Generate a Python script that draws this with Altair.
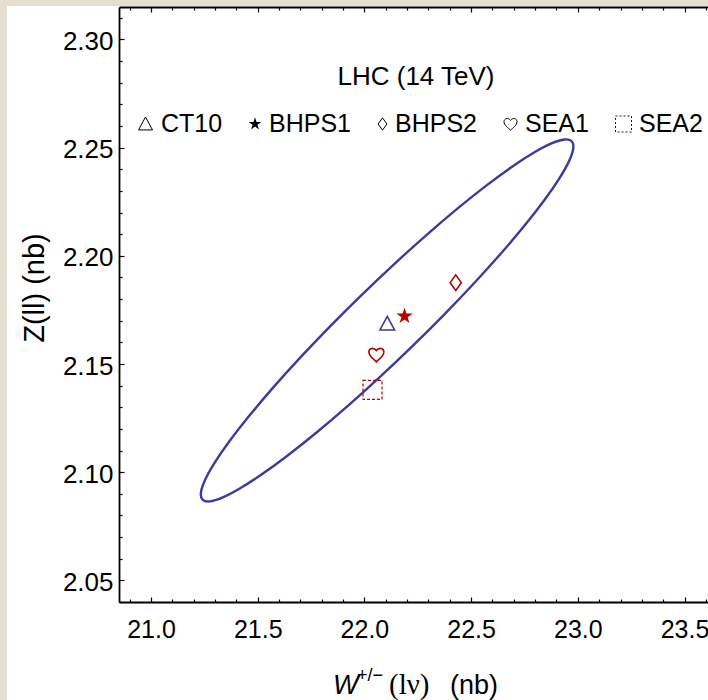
import altair as alt
import pandas as pd

# Predicted W and Z production cross sections at the LHC (14 TeV)
models = ["CT10", "BHPS1", "BHPS2", "SEA1", "SEA2"]
w_nb = [22.107, 22.188, 22.428, 22.056, 22.038]
z_nb = [2.1686, 2.1721, 2.1876, 2.1543, 2.1380]

# CT10 uncertainty ellipse, traced from the upper tip
ellipse_w = [22.9714, 22.9787, 22.9594, 22.9143, 22.8446, 22.7524, 22.6407, 22.5127,
             22.3724, 22.2239, 22.0719, 21.9210, 21.7757, 21.6404, 21.5193, 21.4160,
             21.3338, 21.2750, 21.2414, 21.2341, 21.2534, 21.2985, 21.3682, 21.4604,
             21.5721, 21.7001, 21.8404, 21.9889, 22.1409, 22.2918, 22.4371, 22.5724,
             22.6935, 22.7968, 22.8790, 22.9379]
ellipse_z = [2.25297, 2.24963, 2.24388, 2.23589, 2.22590, 2.21422, 2.20120, 2.18723,
             2.17274, 2.15818, 2.14398, 2.13057, 2.11836, 2.10774, 2.09900, 2.09243,
             2.08822, 2.08649, 2.08731, 2.09065, 2.09640, 2.10439, 2.11438, 2.12606,
             2.13908, 2.15305, 2.16754, 2.18210, 2.19630, 2.20971, 2.22192, 2.23254,
             2.24128, 2.24785, 2.25206, 2.25379]

# Tick values
x_major = [21.0, 21.5, 22.0, 22.5, 23.0, 23.5]
y_major = [2.05, 2.10, 2.15, 2.20, 2.25, 2.30]
x_minor = [round(20.9 + 0.1 * i, 2) for i in range(28)]
x_minor = [v for v in x_minor if v not in x_major]
y_minor = [round(2.04 + 0.01 * i, 2) for i in range(28)]
y_minor = [v for v in y_minor if v not in y_major]

X_DOM = [20.85, 23.61]
Y_DOM = [2.04, 2.315]
W, H = 589, 595

SANS = "Liberation Sans"
SERIF = "Liberation Serif"
BLUE = "#3b3b9c"
RED = "#b30000"
PARCH = "#e6dfd1"

TRI = "M0,-1L1,0.85L-1,0.85Z"
STAR = ("M0,-1L0.2245,-0.309L0.951,-0.309L0.3633,0.118L0.588,0.809L0,0.382"
        "L-0.588,0.809L-0.3633,0.118L-0.951,-0.309L-0.2245,-0.309Z")
DIAMOND = "M0,-1L0.72,0L0,1L-0.72,0Z"
HEART = ("M0,0.95C-0.35,0.6 -1,0.2 -1,-0.35C-1,-0.85 -0.4,-1.05 0,-0.55"
         "C0.4,-1.05 1,-0.85 1,-0.35C1,0.2 0.35,0.6 0,0.95Z")

pts = pd.DataFrame({"model": models, "w": w_nb, "z": z_nb})
ell = pd.DataFrame({"k": list(range(len(ellipse_w))), "w": ellipse_w, "z": ellipse_z})
single = pd.DataFrame({"row": [0]})  # one row for decorations and text


def xenc(axis=None):
    return alt.X("w:Q", scale=alt.Scale(domain=X_DOM, nice=False, zero=False), axis=axis)


def yenc(axis=None):
    return alt.Y("z:Q", scale=alt.Scale(domain=Y_DOM, nice=False, zero=False), axis=axis)


common = dict(grid=False, title=None, zindex=1)
lab = dict(labelFont=SANS, labelColor="black", labelFlush=False, labelOverlap=False)

ax_bottom = alt.Axis(orient="bottom", values=x_major, format=".1f", ticks=False, tickSize=0,
                     domain=True, domainColor="black", domainWidth=1.8, labelPadding=15,
                     labelFontSize=25, **lab, **common)
ax_left = alt.Axis(orient="left", values=y_major, format=".2f", ticks=False, tickSize=0,
                   domain=True, domainColor="black", domainWidth=1.8, labelPadding=6,
                   labelOffset=2, labelFontSize=26, **lab, **common)


def tick_axis(orient, offset, values, size, domain=False):
    return alt.Axis(orient=orient, offset=offset, values=values, labels=False,
                    domain=domain, domainColor="black", domainWidth=1.8,
                    ticks=True, tickSize=size, tickWidth=1.2, tickColor="black", **common)


# white panel behind the figure
panel = alt.Chart(single).mark_rect(color="white").encode(
    x=alt.value(-112), x2=alt.value(W + 5), y=alt.value(-1), y2=alt.value(H + 110)
)

ellipse = alt.Chart(ell).mark_line(
    interpolate="cardinal-closed", color=BLUE, strokeWidth=2.4
).encode(x=xenc(ax_bottom), y=yenc(ax_left), order=alt.Order("k:Q"))

# inward ticks on bottom/left, framed top edge with ticks
tick_layers = [
    alt.Chart(pts).mark_point(opacity=0).encode(
        x=xenc(tick_axis("top", -H, x_major, 5)), y=yenc(tick_axis("right", -W, y_major, 5))),
    alt.Chart(pts).mark_point(opacity=0).encode(
        x=xenc(tick_axis("top", -H, x_minor, 3)), y=yenc(tick_axis("right", -W, y_minor, 3))),
    alt.Chart(pts).mark_point(opacity=0).encode(
        x=xenc(tick_axis("bottom", -H, x_major, 5, domain=True)), y=yenc(None)),
    alt.Chart(pts).mark_point(opacity=0).encode(
        x=xenc(tick_axis("bottom", -H, x_minor, 3)), y=yenc(None)),
]

marker_style = {
    "CT10": dict(shape=TRI, size=215, color=BLUE, filled=False, strokeWidth=1.6),
    "BHPS1": dict(shape=STAR, size=290, color=RED, filled=True, strokeWidth=0.5),
    "BHPS2": dict(shape=DIAMOND, size=240, color=RED, filled=False, strokeWidth=1.6),
    "SEA1": dict(shape=HEART, size=225, color=RED, filled=False, strokeWidth=1.6),
    "SEA2": dict(shape="square", size=361, color=RED, filled=False, strokeWidth=1.2,
                 strokeDash=[3, 2]),
}

markers = [
    alt.Chart(pts).transform_filter(alt.datum.model == m).mark_point(opacity=1, **st).encode(
        x=xenc(None), y=yenc(None))
    for m, st in marker_style.items()
]

# legend row
legend_style = {
    "CT10": dict(shape=TRI, size=196, filled=False, strokeWidth=1.0),
    "BHPS1": dict(shape=STAR, size=180, filled=True, strokeWidth=0.3),
    "BHPS2": dict(shape=DIAMOND, size=150, filled=False, strokeWidth=1.0),
    "SEA1": dict(shape=HEART, size=169, filled=False, strokeWidth=1.0),
    "SEA2": dict(shape="square", size=256, filled=False, strokeWidth=0.9, strokeDash=[2, 2]),
}
sym_x = [26.5, 136, 263.5, 391.5, 504.5]
lab_x = [42, 150, 276, 406, 520]
legend = []
for m, sx, tx in zip(models, sym_x, lab_x):
    legend.append(alt.Chart(single).mark_point(color="black", opacity=1, **legend_style[m]).encode(
        x=alt.value(sx), y=alt.value(117)))
    legend.append(alt.Chart(single).mark_text(
        text=m, font=SANS, fontSize=25, align="left", baseline="alphabetic", color="black"
    ).encode(x=alt.value(tx), y=alt.value(125)))


def label(text, x, y, size=25, font=SANS, align="left", style="normal", angle=0,
          baseline="alphabetic"):
    return alt.Chart(single).mark_text(
        text=text, font=font, fontSize=size, align=align, baseline=baseline,
        fontStyle=style, angle=angle, color="black"
    ).encode(x=alt.value(x), y=alt.value(y))


texts = [
    label("LHC (14 TeV)", 297, 78, size=26, align="center"),
    label("Z(ll) (nb)", -84, 281, size=29, angle=270, align="center", baseline="middle"),
    label("W", 214, 687, size=27, style="italic"),
    label("+/\u2212", 238, 674, size=18),
    label("(l\u03bd)", 270, 687, size=29, font=SERIF),
    label("(nb)", 331, 687, size=27),
]

chart = alt.layer(
    panel, ellipse, *tick_layers, *markers, *legend, *texts
).resolve_scale(
    x="independent", y="independent"
).properties(
    width=W, height=H,
    autosize=alt.AutoSizeParams(type="none"),
    padding={"left": 119, "top": 7, "right": 0, "bottom": 98},
    background=PARCH,
).configure_view(stroke=None)

chart.save("out.html", embed_options={"renderer": "svg", "actions": False})
